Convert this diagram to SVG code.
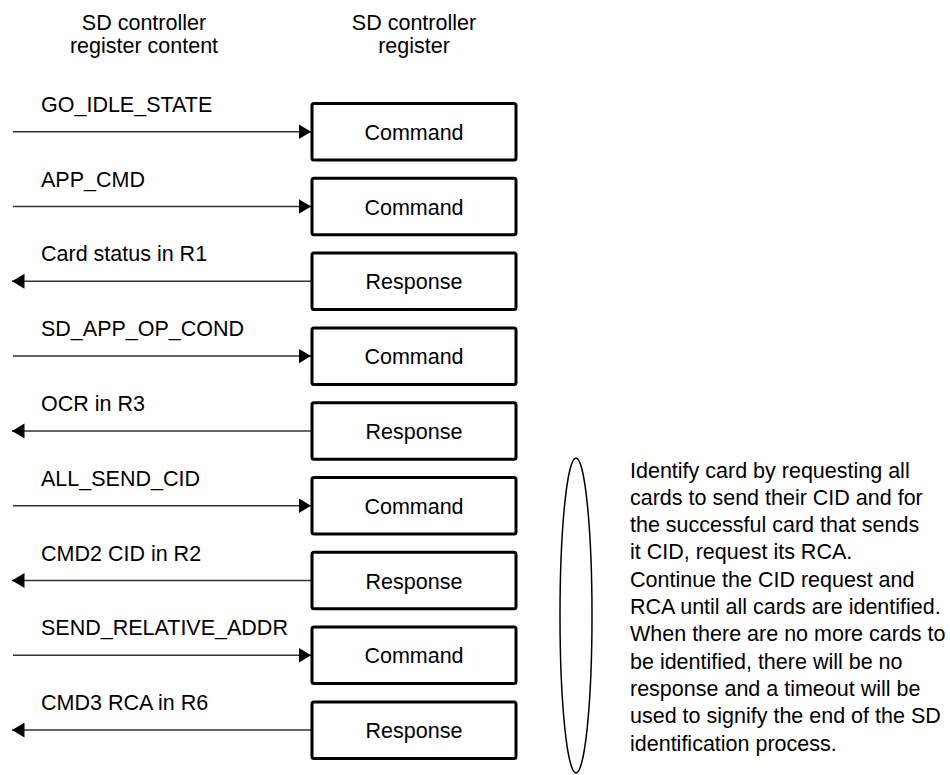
<svg xmlns="http://www.w3.org/2000/svg" width="950" height="775" viewBox="0 0 950 775">
<defs>
<marker id="ah" viewBox="0 0 12.5 15" refX="12.5" refY="7.5" markerWidth="12.5" markerHeight="15" markerUnits="userSpaceOnUse" orient="auto">
<path d="M0,0 L12.5,7.5 L0,15 z" fill="#000"/>
</marker>
<style>
text{font-family:"Liberation Sans",Arial,sans-serif;font-size:21.5px;fill:#000}
.c{text-anchor:middle}
.box{fill:#fff;stroke:#000;stroke-width:3}
.ln{stroke:#333;stroke-width:1.5;fill:none;marker-end:url(#ah)}
</style>
</defs>
<rect width="950" height="775" fill="#fff"/>
<g id="headers">
<text class="c" x="144" y="29.5">SD controller</text>
<text class="c" x="144" y="52.5">register content</text>
<text class="c" x="414" y="29.5">SD controller</text>
<text class="c" x="414" y="52.5">register</text>
</g>
<g id="connectors">
<line class="ln" x1="13" y1="131.7" x2="311" y2="131.7"/>
<line class="ln" x1="13" y1="206.5" x2="311" y2="206.5"/>
<line class="ln" x1="312" y1="281.3" x2="12" y2="281.3"/>
<line class="ln" x1="13" y1="356.1" x2="311" y2="356.1"/>
<line class="ln" x1="312" y1="430.9" x2="12" y2="430.9"/>
<line class="ln" x1="13" y1="505.7" x2="311" y2="505.7"/>
<line class="ln" x1="312" y1="580.5" x2="12" y2="580.5"/>
<line class="ln" x1="13" y1="655.3" x2="311" y2="655.3"/>
<line class="ln" x1="312" y1="730.1" x2="12" y2="730.1"/>
</g>
<g id="labels">
<text x="41" y="111.7">GO_IDLE_STATE</text>
<text x="41" y="186.5">APP_CMD</text>
<text x="41" y="261.3">Card status in R1</text>
<text x="41" y="336.1">SD_APP_OP_COND</text>
<text x="41" y="410.9">OCR in R3</text>
<text x="41" y="485.7">ALL_SEND_CID</text>
<text x="41" y="560.5">CMD2 CID in R2</text>
<text x="41" y="635.3">SEND_RELATIVE_ADDR</text>
<text x="41" y="710.1">CMD3 RCA in R6</text>
</g>
<g id="n1"><rect class="box" x="312" y="103.5" width="204" height="56.5" rx="2"/><text class="c" x="414" y="139.7">Command</text></g>
<g id="n2"><rect class="box" x="312" y="178.3" width="204" height="56.5" rx="2"/><text class="c" x="414" y="214.5">Command</text></g>
<g id="n3"><rect class="box" x="312" y="253.1" width="204" height="56.5" rx="2"/><text class="c" x="414" y="289.3">Response</text></g>
<g id="n4"><rect class="box" x="312" y="327.9" width="204" height="56.5" rx="2"/><text class="c" x="414" y="364.1">Command</text></g>
<g id="n5"><rect class="box" x="312" y="402.7" width="204" height="56.5" rx="2"/><text class="c" x="414" y="438.9">Response</text></g>
<g id="n6"><rect class="box" x="312" y="477.5" width="204" height="56.5" rx="2"/><text class="c" x="414" y="513.7">Command</text></g>
<g id="n7"><rect class="box" x="312" y="552.3" width="204" height="56.5" rx="2"/><text class="c" x="414" y="588.5">Response</text></g>
<g id="n8"><rect class="box" x="312" y="627.1" width="204" height="56.5" rx="2"/><text class="c" x="414" y="663.3">Command</text></g>
<g id="n9"><rect class="box" x="312" y="701.9" width="204" height="56.5" rx="2"/><text class="c" x="414" y="738.1">Response</text></g>
<g id="loop"><ellipse cx="576" cy="615.5" rx="16" ry="157.5" fill="none" stroke="#000" stroke-width="1.5"/></g>
<g id="note">
<text x="630" y="477.5">Identify card by requesting all</text>
<text x="630" y="504.8">cards to send their CID and for</text>
<text x="630" y="532.1">the successful card that sends</text>
<text x="630" y="559.4">it CID, request its RCA.</text>
<text x="630" y="586.7">Continue the CID request and</text>
<text x="630" y="614">RCA until all cards are identified.</text>
<text x="630" y="641.3">When there are no more cards to</text>
<text x="630" y="668.6">be identified, there will be no</text>
<text x="630" y="695.9">response and a timeout will be</text>
<text x="630" y="723.2">used to signify the end of the SD</text>
<text x="630" y="750.5">identification process.</text>
</g>
</svg>
